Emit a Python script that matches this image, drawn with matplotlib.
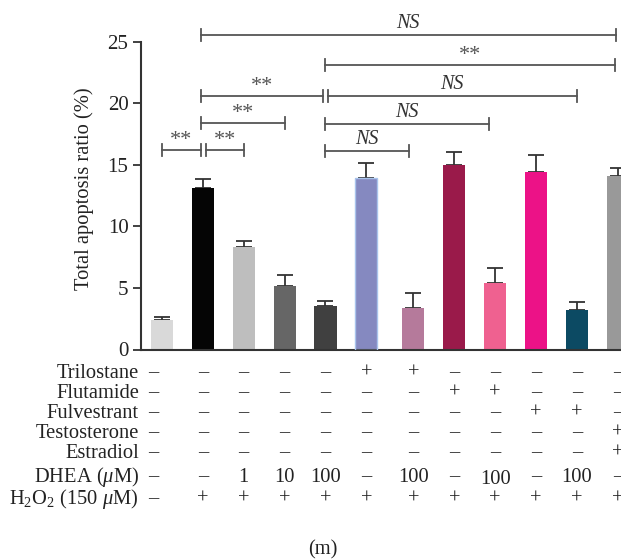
import numpy as np
import matplotlib
matplotlib.use("Agg")
import matplotlib.pyplot as plt
from matplotlib.transforms import blended_transform_factory

plt.rcParams['font.family'] = ['Liberation Serif', 'DejaVu Serif']
plt.rcParams['mathtext.fontset'] = 'custom'
plt.rcParams['mathtext.rm'] = 'Liberation Serif'
plt.rcParams['mathtext.it'] = 'Liberation Serif:italic'

# ---- data ----
values = [2.38, 13.1, 8.31, 5.14, 3.52, 13.9, 3.38, 14.99, 5.39, 14.42, 3.2, 14.09]
errors = [0.25, 0.75, 0.54, 0.90, 0.38, 1.25, 1.17, 1.08, 1.27, 1.41, 0.62, 0.63]
colors = ['#d9d9d9', '#050505', '#bebebe', '#666666', '#404040', '#8589c0',
          '#b57a9b', '#9a1a4a', '#ef6190', '#ec1287', '#0c4a63', '#999999']

row_labels = ['Trilostane', 'Flutamide', 'Fulvestrant', 'Testosterone', 'Estradiol',
              'DHEA ($\\mathit{\\mu}$M)', 'H$_2$O$_2$ (150 $\\mathit{\\mu}$M)']
D, P = '\u2013', '+'
table = [
    [D, D, D, D, D, P, P, D, D, D, D, D],
    [D, D, D, D, D, D, D, P, P, D, D, D],
    [D, D, D, D, D, D, D, D, D, P, P, D],
    [D, D, D, D, D, D, D, D, D, D, D, P],
    [D, D, D, D, D, D, D, D, D, D, D, P],
    [D, D, '1', '10', '100', D, '100', D, '100', D, '100', D],
    [D, P, P, P, P, P, P, P, P, P, P, P],
]

# brackets: (start bar, end bar, height, label, start shift, end shift)
brackets = [
    (1, 11, 25.57, 'NS', -0.05, -0.05),
    (4, 11, 23.11, '**', 0.0, -0.07),
    (1, 4, 20.62, '**', -0.05, -0.05),
    (4, 10, 20.62, 'NS', 0.05, 0.0),
    (1, 3, 18.43, '**', -0.05, 0.0),
    (4, 8, 18.30, 'NS', 0.0, -0.15),
    (0, 1, 16.20, '**', 0.0, -0.05),
    (1, 2, 16.20, '**', 0.07, 0.0),
    (4, 6, 16.15, 'NS', 0.0, -0.1),
]

# ---- layout ----
W, H = 621, 560
fig = plt.figure(figsize=(W / 100, H / 100), dpi=100)
x = np.arange(len(values), dtype=float)
x[6:] += 0.15
ppu = 40.9
xl = (-0.51, 11.7)
ax_left, ax_bottom_px, ax_top_px = 141, 349.5, 41.7
ax_w = (xl[1] - xl[0]) * ppu
ax = fig.add_axes([ax_left / W, 1 - ax_bottom_px / H, ax_w / W, (ax_bottom_px - ax_top_px) / H])

ax.bar(x, values, width=0.54, color=colors, zorder=2)
ax.bar(x[5], values[5], width=0.54, color='none', edgecolor='#a9c4ec', linewidth=1.0, zorder=3)
ax.errorbar(x, values, yerr=[np.zeros(len(errors)), errors], fmt='none',
            ecolor='#333333', elinewidth=1.3, capsize=5.5, capthick=1.3, zorder=1)

ax.set_xlim(*xl)
ax.set_ylim(0, 25)
ax.set_yticks([0, 5, 10, 15, 20, 25])
ax.set_xticks([])
for s in ['top', 'right']:
    ax.spines[s].set_visible(False)
for s in ['left', 'bottom']:
    ax.spines[s].set_color('#333333')
    ax.spines[s].set_linewidth(1.5)
ax.tick_params(axis='y', direction='out', length=6, width=1.3, color='#333333',
               labelsize=15, labelcolor='#222222', pad=3)
fig.text(84 / W, 1 - 189 / H, 'Total apoptosis ratio (%)', rotation=90,
         ha='center', va='center', fontsize=14.8, color='#222222')

# significance brackets
px = 1 / 12.31
for a, b, h, lab, sa, sb in brackets:
    x0, x1 = x[a] + sa, x[b] + sb
    tk = 6 * px
    ax.plot([x0, x1], [h, h], color='#555555', lw=1.3, clip_on=False, zorder=4)
    ax.plot([x0, x0], [h - tk, h + tk], color='#555555', lw=1.3, clip_on=False, zorder=4)
    ax.plot([x1, x1], [h - tk, h + tk], color='#555555', lw=1.3, clip_on=False, zorder=4)
    if lab == 'NS':
        ax.text((x0 + x1) / 2, h + 11.5 * px, lab, ha='center', va='center',
                fontsize=14.5, style='italic', color='#333333', clip_on=False)
    else:
        ax.text((x0 + x1) / 2, h + 9.5 * px, lab, ha='center', va='center',
                fontsize=16, color='#555555', clip_on=False)

# treatment table
trans = blended_transform_factory(ax.transData, fig.transFigure)
row_y = [373, 393, 413, 433, 453, 477, 499]
for r, (lab, yy) in enumerate(zip(row_labels, row_y)):
    fig.text(139 / W, 1 - yy / H, lab, ha='right', va='center', fontsize=14.8, color='#222222')
    for c, val in enumerate(table[r]):
        cx = x[c] - (0.2 if c == 0 else 0.0)
        dy = 3 if (r == 5 and c == 8) else 0
        ax.text(cx, 1 - (yy + dy) / H, val, transform=trans, ha='center', va='center',
                fontsize=14.8, color='#222222', clip_on=False)

fig.text(323 / W, 1 - 550 / H, '(m)', ha='center', va='center', fontsize=14.8, color='#222222')

fig.savefig('out.png', dpi=100)
